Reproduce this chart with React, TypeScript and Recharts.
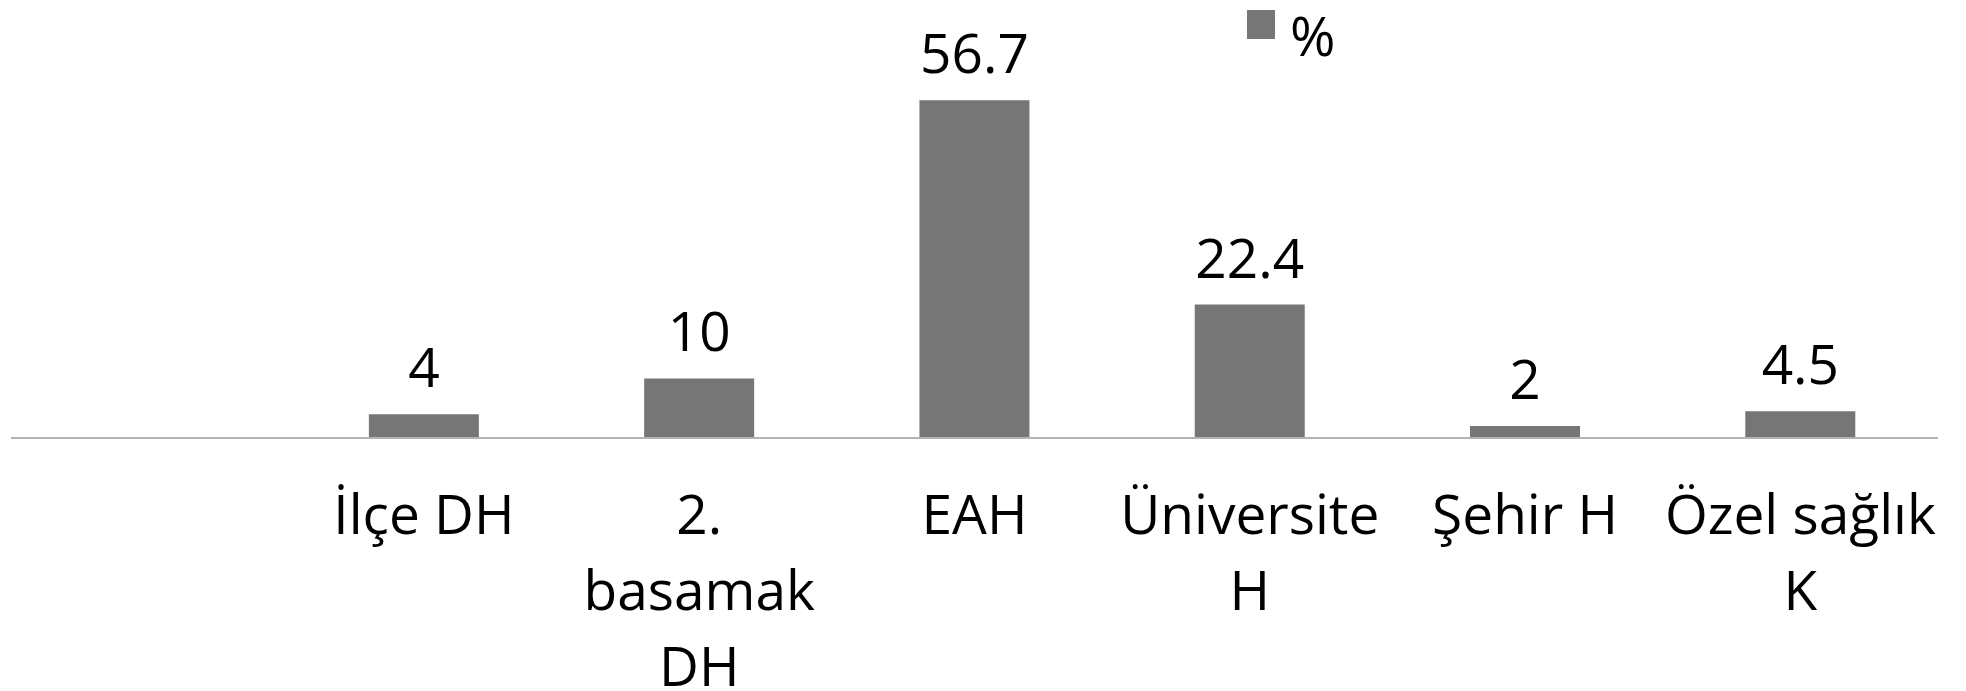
import { BarChart, Bar, XAxis, YAxis, Legend, LabelList } from "recharts";

const categories = ["", "İlçe DH", "2. basamak DH", "EAH", "Üniversite H", "Şehir H", "Özel sağlık K"];
// how each category label breaks into lines under the axis
const tickLines = [[""], ["İlçe DH"], ["2.", "basamak", "DH"], ["EAH"], ["Üniversite", "H"], ["Şehir H"], ["Özel sağlık", "K"]];
const percents = [null, 4, 10, 56.7, 22.4, 2, 4.5];
const seriesName = "%";

const data = categories.map((name, i) => ({ name, value: percents[i] }));

const FONT = "'Open Sans', 'Liberation Sans', sans-serif";
const FONT_SIZE = 55;
const BAR_COLOR = "#767676";

const CategoryTick = (props: any) => {
  const { x, y, index } = props;
  const lines = tickLines[index] || [];
  return (
    <g transform={`translate(${x},${y})`}>
      <text textAnchor="middle" fill="#000" fontSize={FONT_SIZE} fontFamily={FONT}>
        {lines.map((ln, i) => (
          <tspan key={i} x={0} y={96 + i * 76}>
            {ln}
          </tspan>
        ))}
      </text>
    </g>
  );
};

const ValueLabel = (props: any) => {
  const { x, y, width, value } = props;
  if (value === null || value === undefined) return null;
  return (
    <text x={x + width / 2} y={y - 27} textAnchor="middle" fill="#000" fontSize={FONT_SIZE} fontFamily={FONT}>
      {value}
    </text>
  );
};

const LegendBox = (props: any) => {
  const item = props.payload?.[0];
  if (!item) return null;
  return (
    <svg width={120} height={70} style={{ overflow: "visible" }}>
      <rect x={0} y={2} width={28} height={29} fill={item.color} />
      <text x={43} y={48} fontSize={FONT_SIZE} fontFamily={FONT} fill="#000">
        {item.value}
      </text>
    </svg>
  );
};

export default function App() {
  return (
    <BarChart
      width={1958}
      height={683}
      data={data}
      margin={{ top: 13, right: 28, left: 3, bottom: 0 }}
      barCategoryGap="30%"
    >
      <XAxis
        dataKey="name"
        height={253}
        axisLine={{ stroke: "#b3b3b3", strokeWidth: 2 }}
        tickLine={false}
        tickSize={0}
        tickMargin={0}
        interval={0}
        tick={<CategoryTick />}
      />
      <YAxis hide domain={[0, 70]} />
      <Legend
        layout="horizontal"
        verticalAlign="middle"
        align="center"
        content={<LegendBox />}
        wrapperStyle={{ left: 1239, top: 0, width: 120, height: 70 }}
      />
      <Bar dataKey="value" name={seriesName} fill={BAR_COLOR} isAnimationActive={false}>
        <LabelList dataKey="value" content={<ValueLabel />} />
      </Bar>
    </BarChart>
  );
}
